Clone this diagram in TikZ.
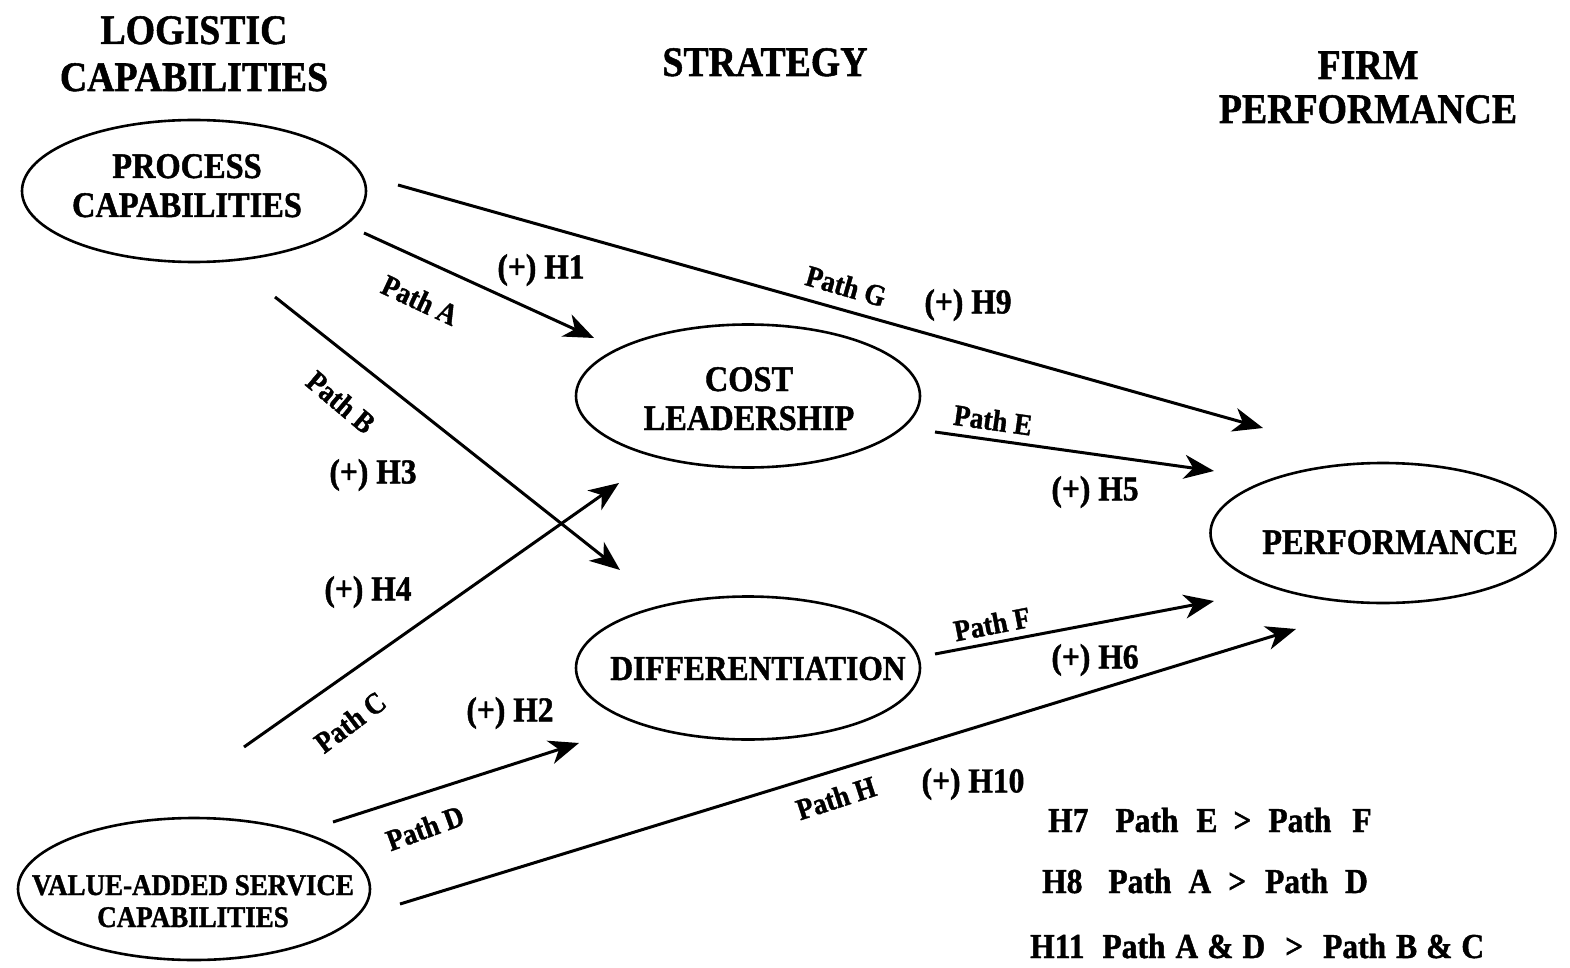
\documentclass[tikz,border=0pt]{standalone}
\usepackage{fontspec}
\setmainfont{Liberation Serif}[FakeStretch=0.9, BoldFeatures={FakeBold=1.2}]
\usetikzlibrary{arrows.meta,shapes.geometric}
\tikzset{
 ell/.style={draw, ellipse, line width=2.6pt, inner sep=0pt},
 arr/.style={line width=3pt, -{Stealth[length=30pt,width=24pt,inset=9pt]}},
 ttl/.style={font=\fontsize{42}{47}\selectfont\bfseries, anchor=base, inner sep=0pt},
 ntx/.style={font=\fontsize{36}{39}\selectfont\bfseries, anchor=base, inner sep=0pt},
 vtx/.style={font=\fontsize{30}{33}\selectfont\bfseries, anchor=base, inner sep=0pt},
 hyp/.style={font=\fontsize{35}{40}\selectfont\bfseries, inner sep=0pt},
 pth/.style={font=\fontsize{30}{34}\selectfont\bfseries, inner sep=0pt},
}
\begin{document}
\begin{tikzpicture}[x=1pt,y=-1pt]
\path[use as bounding box, fill=white] (0,0) rectangle (1570,968);
% titles
\node[ttl] (t1a) at (194,44) {LOGISTIC};
\node[ttl] (t1b) at (194,91) {CAPABILITIES};
\node[ttl] (t2) at (765,76) {STRATEGY};
\node[ttl] (t3a) at (1368,79) {FIRM};
\node[ttl] (t3b) at (1368,123) {PERFORMANCE};
% ellipses
\node[ell, minimum width=344pt, minimum height=142pt] (proc) at (194,191) {};
\node[ell, minimum width=344pt, minimum height=143pt] (cost) at (748,396) {};
\node[ell, minimum width=344pt, minimum height=143pt] (diff) at (748,668) {};
\node[ell, minimum width=345pt, minimum height=140pt] (perf) at (1383,533) {};
\node[ell, minimum width=352pt, minimum height=142pt] (vas) at (194,889) {};
% ellipse texts
\node[ntx] (procT1) at (187,178) {PROCESS};
\node[ntx] (procT2) at (187,217) {CAPABILITIES};
\node[ntx] (costT1) at (749,391) {COST};
\node[ntx] (costT2) at (749,430) {LEADERSHIP};
\node[ntx, font=\fontsize{35}{39}\selectfont\bfseries] (diffT) at (758,680) {DIFFERENTIATION};
\node[ntx] (perfT) at (1390,554) {PERFORMANCE};
\node[vtx] (vasT1) at (193,895) {VALUE-ADDED SERVICE};
\node[vtx] (vasT2) at (193,927) {CAPABILITIES};
% connector end points
\coordinate (gS) at (398,185);  \coordinate (gE) at (1263,428);
\coordinate (aS) at (364,233);  \coordinate (aE) at (594,338);
\coordinate (bS) at (275,297);  \coordinate (bE) at (620,570);
\coordinate (cS) at (244,747);  \coordinate (cE) at (619,483);
\coordinate (dS) at (333,822);  \coordinate (dE) at (579,743);
\coordinate (eS) at (935,432);  \coordinate (eE) at (1214,471);
\coordinate (fS) at (935,654);  \coordinate (fE) at (1214,601);
\coordinate (hS) at (400,904);  \coordinate (hE) at (1296,629);
\draw[arr] (gS) -- (gE);
\draw[arr] (aS) -- (aE);
\draw[arr] (bS) -- (bE);
\draw[arr] (cS) -- (cE);
\draw[arr] (dS) -- (dE);
\draw[arr] (eS) -- (eE);
\draw[arr] (fS) -- (fE);
\draw[arr] (hS) -- (hE);
% path labels
\node[pth, rotate=-25] (lA) at (420,300) {Path A};
\node[pth, rotate=-16] (lG) at (846,286) {Path G};
\node[pth, rotate=-40] (lB) at (341,402) {Path B};
\node[pth, rotate=37] (lC) at (350,722) {Path C};
\node[pth, rotate=20] (lD) at (425,828) {Path D};
\node[pth, rotate=-8] (lE) at (993,420) {Path E};
\node[pth, rotate=11] (lF) at (992,624) {Path F};
\node[pth, rotate=18] (lH) at (836,798) {Path H};
% hypothesis labels
\node[hyp] (h1) at (541,270) {(+) H1};
\node[hyp] (h9) at (968,305) {(+) H9};
\node[hyp] (h3) at (373,475) {(+) H3};
\node[hyp] (h4) at (368,592) {(+) H4};
\node[hyp] (h2) at (510,713) {(+) H2};
\node[hyp] (h5) at (1095,492) {(+) H5};
\node[hyp] (h6) at (1095,660) {(+) H6};
\node[hyp] (h10) at (973,784) {(+) H10};
% hypothesis statements
\node[hyp, anchor=base west] (h7) at (1048,832) {H7\hspace{27pt}Path\hspace{18pt}E\hspace{16pt}>\hspace{17pt}Path\hspace{21pt}F};
\node[hyp, anchor=base west] (h8) at (1042,893) {H8\hspace{26pt}Path\hspace{17pt}A\hspace{17pt}>\hspace{19pt}Path\hspace{17pt}D};
\node[hyp, anchor=base west] (h11) at (1030,958) {H11\hspace{18pt}Path\hspace{10pt}A\hspace{9pt}\&\hspace{9pt}D\hspace{20pt}>\hspace{20pt}Path\hspace{10pt}B\hspace{9pt}\&\hspace{9pt}C};
\end{tikzpicture}
\end{document}
